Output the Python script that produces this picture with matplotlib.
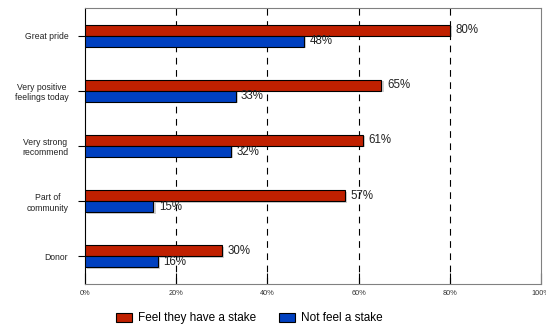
import matplotlib
matplotlib.use("Agg")
import matplotlib.pyplot as plt
import numpy as np

plt.rcParams['font.family'] = ['Liberation Sans', 'DejaVu Sans']

categories = ["Great pride", "Very positive\nfeelings today", "Very strong\nrecommend",
              "Part of\ncommunity", "Donor"]
stake = [80, 65, 61, 57, 30]
no_stake = [48, 33, 32, 15, 16]
xticks = [0, 20, 40, 60, 80, 100]
xtick_labels = ["0%", "20%", "40%", "60%", "80%", "100%"]

red = "#C02000"
blue = "#0040C0"

fig = plt.figure(figsize=(5.46, 3.27), dpi=100)
ax = fig.add_axes([0.1557, 0.1315, 0.8353, 0.844])

y = np.arange(len(categories))
h = 0.2

# soft grey shadow behind bars
ax.barh(y - h / 2 + 0.025, stake, height=h, left=0.5, color="#d0d0d0", zorder=1)
ax.barh(y + h / 2 + 0.025, no_stake, height=h, left=0.5, color="#d0d0d0", zorder=1)

ax.barh(y - h / 2, stake, height=h, color=red, edgecolor="black", linewidth=0.8,
        label="Feel they have a stake", zorder=3)
ax.barh(y + h / 2, no_stake, height=h, color=blue, edgecolor="black", linewidth=0.8,
        label="Not feel a stake", zorder=3)

for yi, v in zip(y, stake):
    ax.text(v + 1.2, yi - h / 2, f"{v}%", va="center", ha="left", fontsize=8.3, color="#222222", zorder=4)
for yi, v in zip(y, no_stake):
    ax.text(v + 1.2, yi + h / 2, f"{v}%", va="center", ha="left", fontsize=8.3, color="#222222", zorder=4)

ax.set_xlim(0, 100)
ax.set_ylim(len(categories) - 0.5, -0.5)
ax.set_yticks(y)
ax.set_yticklabels(categories, fontsize=6.2, color="#222222", multialignment="center")
ax.set_xticks(xticks)
ax.set_xticklabels(xtick_labels, fontsize=5.3, color="#333333")
ax.tick_params(axis="x", direction="in", length=8, width=0.8, pad=4)
ax.tick_params(axis="y", direction="out", length=5, width=0.8, pad=7)

for x in xticks[1:-1]:
    ax.axvline(x, color="black", linestyle=(0, (6, 5)), linewidth=0.8, zorder=2)

ax.spines["left"].set_color("black")
for s in ["top", "right", "bottom"]:
    ax.spines[s].set_color("#808080")
for s in ax.spines.values():
    s.set_linewidth(0.8)

ax.legend(loc="center", bbox_to_anchor=(0.36, -0.125), ncol=2, frameon=False,
          fontsize=8.5, handlelength=1.3, handleheight=0.8, columnspacing=2.0,
          handletextpad=0.5)

fig.savefig("out.png", dpi=100)
